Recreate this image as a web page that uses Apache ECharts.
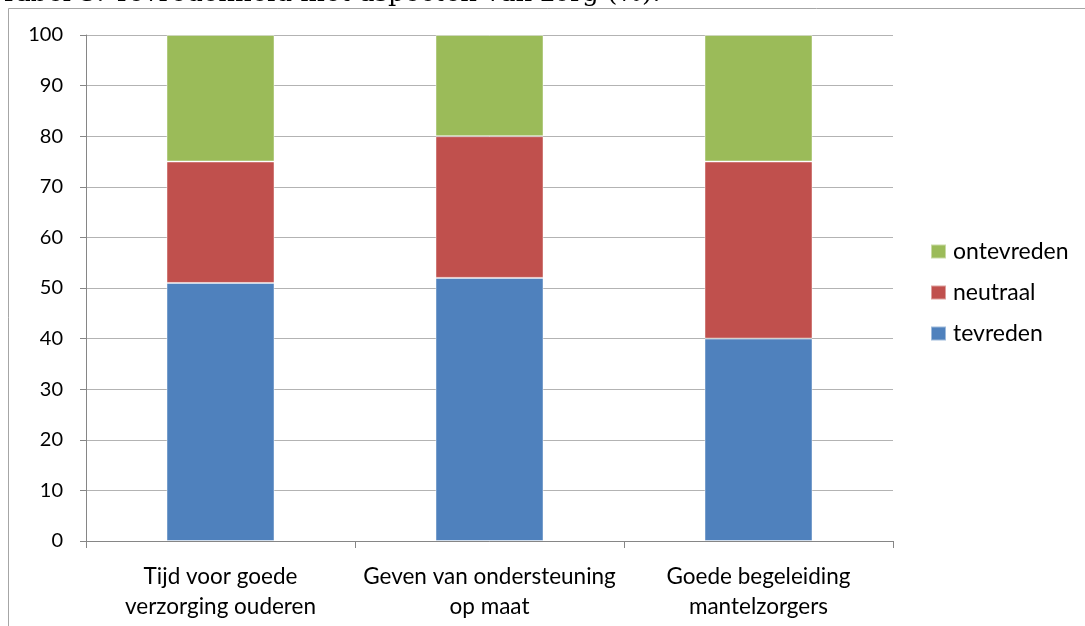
<!DOCTYPE html>
<html>
<head>
<meta charset="utf-8">
<script src="https://cdn.jsdelivr.net/npm/echarts@6/dist/echarts.min.js"></script>
<style>
html,body{margin:0;padding:0;background:#fff;}
#chart{width:1085px;height:626px;}
</style>
</head>
<body>
<div id="chart"></div>
<script>
const categories = ['Tijd voor goede\nverzorging ouderen', 'Geven van ondersteuning\nop maat', 'Goede begeleiding\nmantelzorgers'];
const tevreden = [51, 52, 40];
const neutraal = [24, 28, 35];
const ontevreden = [25, 20, 25];
const titleText = 'Tabel 3: Tevredenheid met aspecten van zorg (%).';

const chart = echarts.init(document.getElementById('chart'));
const labelFont = 'Lato, "Open Sans", sans-serif';
const barStyle = { borderColor: 'rgba(255,255,255,0.45)', borderWidth: 1 };
chart.setOption({
  animation: false,
  graphic: [
    { type: 'rect', shape: { x: 8.5, y: 8.5, width: 1200, height: 800 }, style: { fill: 'none', stroke: '#a6a6a6', lineWidth: 1 }, silent: true },
    { type: 'text', left: 0, top: -19, style: { text: titleText, font: '26px "DejaVu Serif", serif', fill: '#000' } }
  ],
  grid: { left: 86, right: 192, top: 35, bottom: 85, containLabel: false },
  legend: {
    orient: 'vertical', left: 930, top: 240, padding: 0,
    itemWidth: 15, itemHeight: 14, itemGap: 18,
    icon: 'rect',
    data: ['ontevreden', 'neutraal', 'tevreden'],
    textStyle: { fontFamily: labelFont, fontSize: 23, lineHeight: 23, color: '#000', padding: [0, 0, 0, 2] }
  },
  xAxis: {
    type: 'category', data: categories,
    axisLine: { lineStyle: { color: '#868686' } },
    axisTick: { show: true, length: 7, lineStyle: { color: '#868686' } },
    axisLabel: { margin: 21, fontFamily: labelFont, fontSize: 22.5, color: '#000', lineHeight: 30, interval: 0 }
  },
  yAxis: {
    type: 'value', min: 0, max: 100, interval: 10,
    axisLine: { show: true, lineStyle: { color: '#868686' } },
    axisTick: { show: true, length: 6, lineStyle: { color: '#868686' } },
    axisLabel: { margin: 23, fontFamily: labelFont, fontSize: 20, color: '#000' },
    splitLine: { lineStyle: { color: '#b3b3b3' } }
  },
  series: [
    { name: 'tevreden', type: 'bar', stack: 's', data: tevreden, barWidth: 108, itemStyle: Object.assign({ color: '#4F81BD' }, barStyle) },
    { name: 'neutraal', type: 'bar', stack: 's', data: neutraal, barWidth: 108, itemStyle: Object.assign({ color: '#C0504D' }, barStyle) },
    { name: 'ontevreden', type: 'bar', stack: 's', data: ontevreden, barWidth: 108, itemStyle: Object.assign({ color: '#9BBB59' }, barStyle) }
  ]
});
</script>
</body>
</html>
